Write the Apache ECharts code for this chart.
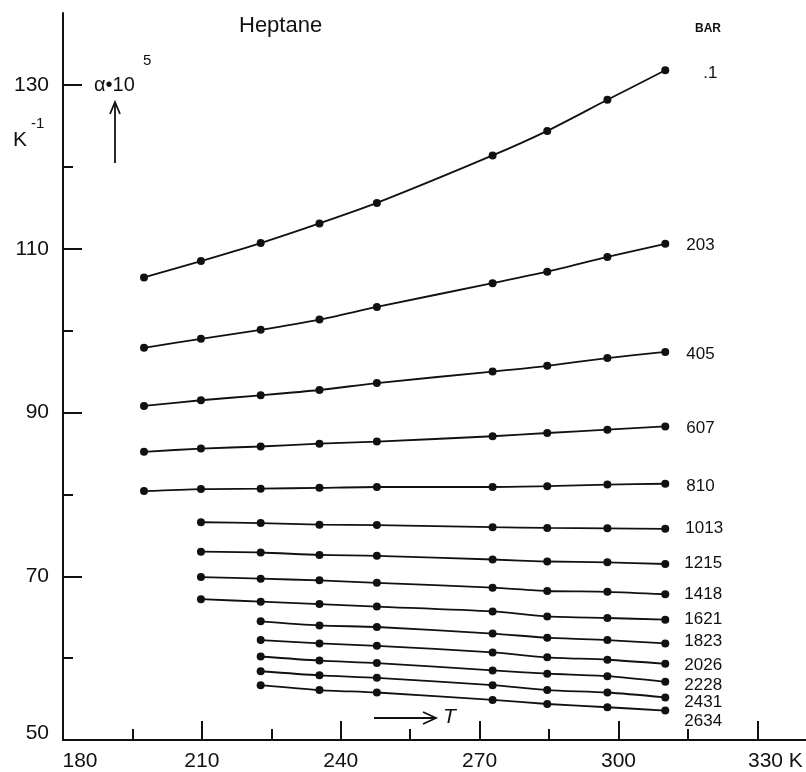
<!DOCTYPE html>
<html>
<head>
<meta charset="utf-8">
<title>Heptane thermal expansivity</title>
<script src="https://cdn.jsdelivr.net/npm/echarts@6/dist/echarts.min.js"></script>
<style>
  html, body { margin: 0; padding: 0; background: #fff; }
  #chart { width: 806px; height: 772px; }
</style>
</head>
<body>
<div id="chart"></div>
<script>
// Temperatures (K) of the measured isobar points
const temperatures = [197.5, 209.8, 222.7, 235.4, 247.8, 272.8, 284.6, 297.6, 310.1];

// Isobar pressures (bar), top to bottom
const pressures = ['.1', '203', '405', '607', '810', '1013', '1215', '1418', '1621', '1823', '2026', '2228', '2431', '2634'];

// Expansivity alpha * 10^5 (K^-1) per isobar; null where no point was measured
const alpha_0_1  = [106.5, 108.5, 110.7, 113.1, 115.6, 121.4, 124.4, 128.2, 131.8];
const alpha_203  = [97.9, 99.0, 100.1, 101.35, 102.9, 105.8, 107.2, 109.0, 110.6];
const alpha_405  = [90.8, 91.5, 92.1, 92.75, 93.6, 95.0, 95.7, 96.65, 97.4];
const alpha_607  = [85.2, 85.6, 85.85, 86.2, 86.45, 87.1, 87.5, 87.9, 88.3];
const alpha_810  = [80.4, 80.65, 80.7, 80.8, 80.9, 80.9, 81.0, 81.2, 81.3];
const alpha_1013 = [null, 76.6, 76.5, 76.3, 76.25, 76.0, 75.9, 75.85, 75.8];
const alpha_1215 = [null, 73.0, 72.9, 72.6, 72.5, 72.05, 71.8, 71.7, 71.5];
const alpha_1418 = [null, 69.9, 69.7, 69.5, 69.2, 68.6, 68.2, 68.1, 67.8];
const alpha_1621 = [null, 67.2, 66.9, 66.6, 66.3, 65.7, 65.1, 64.9, 64.7];
const alpha_1823 = [null, null, 64.5, 64.0, 63.8, 63.0, 62.5, 62.2, 61.8];
const alpha_2026 = [null, null, 62.2, 61.8, 61.5, 60.7, 60.1, 59.8, 59.3];
const alpha_2228 = [null, null, 60.2, 59.7, 59.4, 58.5, 58.1, 57.8, 57.1];
const alpha_2431 = [null, null, 58.4, 57.9, 57.6, 56.7, 56.1, 55.8, 55.2];
const alpha_2634 = [null, null, 56.7, 56.1, 55.8, 54.9, 54.4, 54.0, 53.6];

const isobars = [alpha_0_1, alpha_203, alpha_405, alpha_607, alpha_810, alpha_1013, alpha_1215,
                 alpha_1418, alpha_1621, alpha_1823, alpha_2026, alpha_2228, alpha_2431, alpha_2634];

// Axis ticks and labels
const yLabelValues = [50, 70, 90, 110, 130];
const yMajorTicks  = [70, 90, 110, 130];
const yMinorTicks  = [60, 80, 100, 120];
const xLabelValues = [180, 210, 240, 270, 300, 330];
const xMajorTicks  = [210, 240, 270, 300, 330];
const xMinorTicks  = [195, 225, 255, 285, 315];

// Pressure tag placement next to each curve end: [gap, vertical shift]
const tagPlacement = [[34, 3], [17, 1], [17, 2], [17, 2], [17, 3], [16, 0], [15, -1], [15, 0],
                      [15, 0], [15, -2], [15, 1], [15, 3], [15, 5], [15, 11]];

const FONT = "'Liberation Sans', Arial, sans-serif";
const INK = '#111';

const chart = echarts.init(document.getElementById('chart'), null, { renderer: 'canvas' });

const series = isobars.map((vals, k) => {
  const pts = [];
  vals.forEach((v, i) => { if (v !== null) pts.push([temperatures[i], v]); });
  const last = pts.length - 1;
  return {
    name: pressures[k] + ' bar',
    type: 'line',
    smooth: 0.25,
    symbol: 'circle',
    symbolSize: 8,
    itemStyle: { color: INK },
    lineStyle: { color: INK, width: 1.8 },
    data: pts.map((p, i) => i === last ? {
      value: p,
      label: {
        show: true,
        position: 'right',
        distance: tagPlacement[k][0],
        offset: [0, tagPlacement[k][1]],
        formatter: pressures[k],
        fontFamily: FONT,
        fontSize: 17,
        color: INK
      }
    } : p),
    animation: false
  };
});

const axisLine = { show: true, lineStyle: { color: INK, width: 2 } };

const option = {
  backgroundColor: '#fff',
  animation: false,
  grid: { left: 63, right: 0, top: 13, bottom: 30, containLabel: false },
  xAxis: [
    {
      type: 'value', min: 180, max: 340.5, position: 'bottom',
      axisLine: axisLine,
      axisTick: { show: true, inside: true, length: 19, customValues: xMajorTicks,
                  lineStyle: { color: INK, width: 2 } },
      axisLabel: {
        show: true, customValues: xLabelValues, margin: 11,
        fontFamily: FONT, fontSize: 21, color: INK,
        formatter: v => v === 180 ? '{first|180}' : (v === 330 ? '{unitpad|330}{unit| K}' : String(v)),
        rich: {
          first: { fontFamily: FONT, fontSize: 21, color: INK, padding: [0, 0, 0, 34] },
          unitpad: { fontFamily: FONT, fontSize: 21, color: INK, padding: [0, 0, 0, 36] },
          unit: { fontFamily: FONT, fontSize: 21, color: INK }
        }
      },
      splitLine: { show: false }
    },
    {
      type: 'value', min: 180, max: 340.5, position: 'bottom',
      axisLine: { show: false },
      axisTick: { show: true, inside: true, length: 11, customValues: xMinorTicks,
                  lineStyle: { color: INK, width: 2 } },
      axisLabel: { show: false },
      splitLine: { show: false }
    }
  ],
  yAxis: [
    {
      type: 'value', min: 50, max: 138.8, position: 'left',
      axisLine: axisLine,
      axisTick: { show: true, inside: true, length: 19, customValues: yMajorTicks,
                  lineStyle: { color: INK, width: 2 } },
      axisLabel: {
        show: true, customValues: yLabelValues, margin: 14,
        fontFamily: FONT, fontSize: 21, color: INK,
        formatter: v => v === 50 ? '{low|50}' : String(v),
        rich: { low: { fontFamily: FONT, fontSize: 21, color: INK, padding: [0, 0, 14, 0] } }
      },
      splitLine: { show: false }
    },
    {
      type: 'value', min: 50, max: 138.8, position: 'left',
      axisLine: { show: false },
      axisTick: { show: true, inside: true, length: 10, customValues: yMinorTicks,
                  lineStyle: { color: INK, width: 2 } },
      axisLabel: { show: false },
      splitLine: { show: false }
    }
  ],
  series: series,
  graphic: [
    { type: 'text', left: 239, top: 15,
      style: { text: 'Heptane', font: '22px ' + FONT, fill: INK } },
    { type: 'text', left: 695, top: 23,
      style: { text: 'BAR', font: 'bold 12px ' + FONT, fill: INK } },
    // quantity label: alpha * 10^5
    { type: 'text', left: 94, top: 75,
      style: { text: 'α•10', font: '20px ' + FONT, fill: INK } },
    { type: 'text', left: 143, top: 53,
      style: { text: '5', font: '15px ' + FONT, fill: INK } },
    // unit label: K^-1
    { type: 'text', left: 13, top: 130,
      style: { text: 'K', font: '21px ' + FONT, fill: INK } },
    { type: 'text', left: 31, top: 116,
      style: { text: '-1', font: '15px ' + FONT, fill: INK } },
    // upward arrow under the quantity label
    { type: 'line', shape: { x1: 115, y1: 163, x2: 115, y2: 103 },
      style: { stroke: INK, lineWidth: 1.8 } },
    { type: 'polyline', shape: { points: [[110, 114], [115, 102], [120, 114]] },
      style: { stroke: INK, lineWidth: 1.8, fill: null } },
    // temperature direction arrow
    { type: 'line', shape: { x1: 374, y1: 718, x2: 435, y2: 718 },
      style: { stroke: INK, lineWidth: 1.8 } },
    { type: 'polyline', shape: { points: [[423, 712], [436, 718], [423, 724]] },
      style: { stroke: INK, lineWidth: 1.8, fill: null } },
    { type: 'text', left: 443, top: 707,
      style: { text: 'T', font: 'italic 21px ' + FONT, fill: INK } }
  ]
};

chart.setOption(option);
</script>
</body>
</html>
